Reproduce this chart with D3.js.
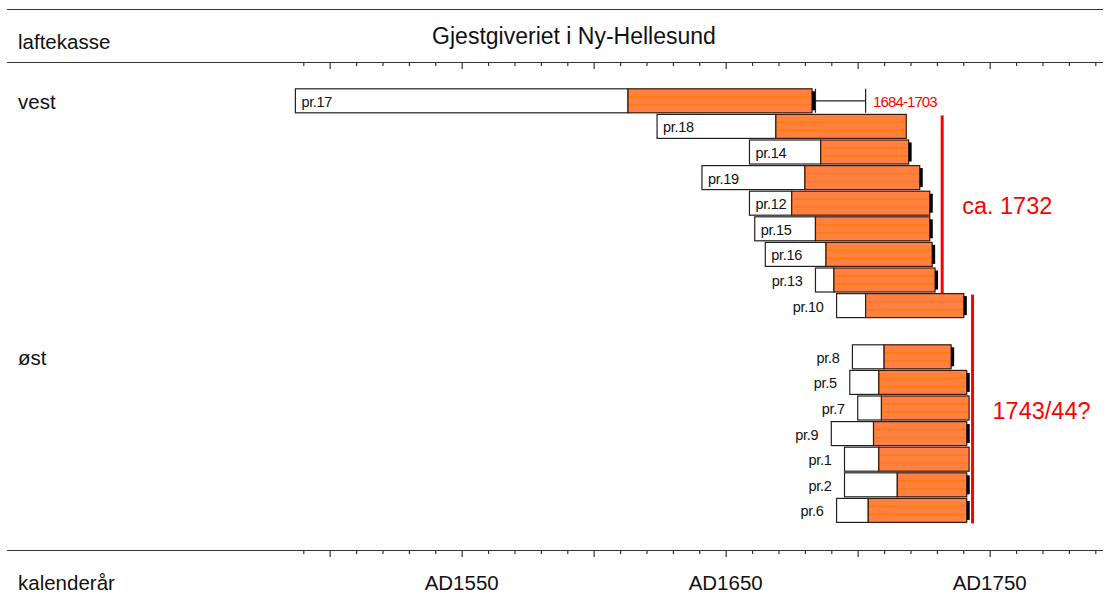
<!DOCTYPE html>
<html><head><meta charset="utf-8">
<script src="https://cdn.jsdelivr.net/npm/d3@7"></script>
<style>
html,body{margin:0;padding:0;background:#fff;}
svg{display:block;font-family:"Liberation Sans",Arial,sans-serif;}
</style></head>
<body>
<svg id="chart" width="1110" height="597"></svg>
<script>
// ---- data ----
const title = "Gjestgiveriet i Ny-Hellesund";
const samples   = ["pr.17","pr.18","pr.14","pr.19","pr.12","pr.15","pr.16","pr.13","pr.10","pr.8","pr.5","pr.7","pr.9","pr.1","pr.2","pr.6"];
const groups    = ["vest","vest","vest","vest","vest","vest","vest","vest","vest","øst","øst","øst","øst","øst","øst","øst"];
const startYears= [1487,1624,1659,1641,1659,1661,1665,1684,1692,1698,1697,1700,1690,1695,1695,1692];
const sapYears  = [1613,1669,1686,1680,1675,1684,1688,1691,1703,1710,1708,1709,1706,1708,1715,1704];
const endYears  = [1682.7,1718.4,1719.3,1723.5,1727.3,1727.3,1728.2,1729.3,1740.2,1735.4,1741.3,1742.2,1741.3,1742.2,1741.3,1741.3];
const barkEdge  = [true,false,true,true,true,true,true,true,true,true,true,false,true,false,true,true];
const labelInside=[true,true,true,true,true,true,true,false,false,false,false,false,false,false,false,false];
const rangeSample = "pr.17";
const rangeYears = [1684, 1703];
const rangeLabel = "1684-1703";
const markYears  = [1732, 1743.5];
const markLabels = ["ca. 1732", "1743/44?"];
const markFrom   = ["pr.18", "pr.10"];
const markTo     = ["pr.13", "pr.6"];
const axisDomain = [1490, 1790];
const tickLabelYears = [1550, 1650, 1750];
const tickLabels = ["AD1550", "AD1650", "AD1750"];
const headerLeft = "laftekasse";
const footerLeft = "kalenderår";

// ---- layout ----
const svg = d3.select("#chart");
const x = d3.scaleLinear().domain(axisDomain).range([303.3, 1095.3]);
const rows = samples.slice(0, 9).concat(["_gap"], samples.slice(9));
const y = d3.scaleBand().domain(rows).range([88, 523.2]).paddingInner(0.0625).paddingOuter(0.03125);
const bh = y.bandwidth();

const data = samples.map((s, i) => ({
  name: s, group: groups[i], start: startYears[i], sap: sapYears[i], end: endYears[i],
  bark: barkEdge[i], inside: labelInside[i]
}));

const lineColor = "#333";
// horizontal rules
[9.5, 62.5, 550.5].forEach(yy => {
  svg.append("line").attr("x1", 7).attr("x2", 1103).attr("y1", yy).attr("y2", yy)
    .attr("stroke", lineColor).attr("stroke-width", 1.2);
});

// axes (ticks)
const tickVals = d3.range(axisDomain[0], axisDomain[1] + 1, 10);
function drawAxis(yy) {
  const g = svg.append("g").attr("transform", `translate(0,${yy})`)
    .call(d3.axisBottom(x).tickValues(tickVals).tickSize(3.5).tickFormat(""));
  g.select(".domain").remove();
  g.selectAll(".tick line").attr("stroke", lineColor).attr("stroke-width", 1.2)
    .attr("y2", d => d % 50 === 0 ? 6.5 : 3.5);
}
drawAxis(62.5);
drawAxis(550.5);

// text labels
svg.append("text").attr("x", 574).attr("y", 36).attr("text-anchor", "middle")
  .attr("dominant-baseline", "central").attr("font-size", 23).attr("fill", "#111").text(title);
svg.append("text").attr("x", 18).attr("y", 41).attr("dominant-baseline", "central")
  .attr("font-size", 20.5).attr("fill", "#111").text(headerLeft);
svg.append("text").attr("x", 18).attr("y", 582).attr("dominant-baseline", "central")
  .attr("font-size", 20.5).attr("fill", "#111").text(footerLeft);
svg.selectAll("text.tl").data(tickLabelYears).join("text").attr("class", "tl")
  .attr("x", d => x(d)).attr("y", 582).attr("text-anchor", "middle").attr("dominant-baseline", "central")
  .attr("font-size", 20.5).attr("fill", "#111").text((d, i) => tickLabels[i]);

// group labels
const groupNames = Array.from(new Set(groups));
svg.selectAll("text.grp").data(groupNames).join("text").attr("class", "grp")
  .attr("x", 18).attr("y", g => y(samples[groups.indexOf(g)]) + bh / 2 + 1)
  .attr("dominant-baseline", "central").attr("font-size", 20.5).attr("fill", "#111").text(g => g);

// bars
const bars = svg.append("g").selectAll("g").data(data).join("g")
  .attr("transform", d => `translate(0,${y(d.name)})`);

bars.append("rect").attr("x", d => x(d.start)).attr("y", 0)
  .attr("width", d => x(d.sap) - x(d.start)).attr("height", bh)
  .attr("fill", "#fff").attr("stroke", "#222").attr("stroke-width", 1.2);

bars.append("rect").attr("x", d => x(d.sap)).attr("y", 0)
  .attr("width", d => x(d.end) - x(d.sap)).attr("height", bh)
  .attr("fill", "#FF8040").attr("stroke", "#3a1a08").attr("stroke-width", 1.2);

[1/3, 2/3].forEach(f => {
  bars.append("line").attr("x1", d => x(d.sap) + 1).attr("x2", d => x(d.end) - 1)
    .attr("y1", bh * f).attr("y2", bh * f).attr("stroke", "#FF7A00").attr("stroke-width", 1.3);
});

bars.filter(d => d.bark).append("rect").attr("x", d => x(d.end)).attr("y", 2.5)
  .attr("width", 3).attr("height", bh - 5).attr("fill", "#000");

bars.append("text")
  .attr("x", d => d.inside ? x(d.start) + 6 : x(d.start) - 13)
  .attr("y", bh / 2 + 1)
  .attr("text-anchor", d => d.inside ? "start" : "end")
  .attr("dominant-baseline", "central")
  .attr("font-size", 14.5).attr("letter-spacing", -0.3).attr("fill", "#111")
  .text(d => d.name);

// range bracket for pr.17
const rb = svg.append("g").attr("transform", `translate(0,${y(rangeSample)})`);
rb.append("line").attr("x1", x(rangeYears[0])).attr("x2", x(rangeYears[1]))
  .attr("y1", bh / 2).attr("y2", bh / 2).attr("stroke", "#222").attr("stroke-width", 1.2);
rangeYears.forEach(yr => {
  rb.append("line").attr("x1", x(yr)).attr("x2", x(yr)).attr("y1", 0).attr("y2", bh)
    .attr("stroke", "#222").attr("stroke-width", 1.2);
});
rb.append("text").attr("x", x(rangeYears[1]) + 7.5).attr("y", bh / 2 + 1)
  .attr("dominant-baseline", "central").attr("font-size", 15).attr("letter-spacing", -0.9)
  .attr("fill", "#ff0000").text(rangeLabel);

// red felling-date lines
markYears.forEach((yr, i) => {
  const y1 = y(markFrom[i]) + 1, y2 = y(markTo[i]) + bh + 1;
  svg.append("line").attr("x1", x(yr)).attr("x2", x(yr)).attr("y1", y1).attr("y2", y2)
    .attr("stroke", "#ff0000").attr("stroke-width", 3);
  svg.append("text").attr("x", x(yr) + 20).attr("y", (y1 + y2) / 2 + 2)
    .attr("dominant-baseline", "central").attr("font-size", 23.5).attr("fill", "#ff0000")
    .text(markLabels[i]);
});
</script>
</body></html>
